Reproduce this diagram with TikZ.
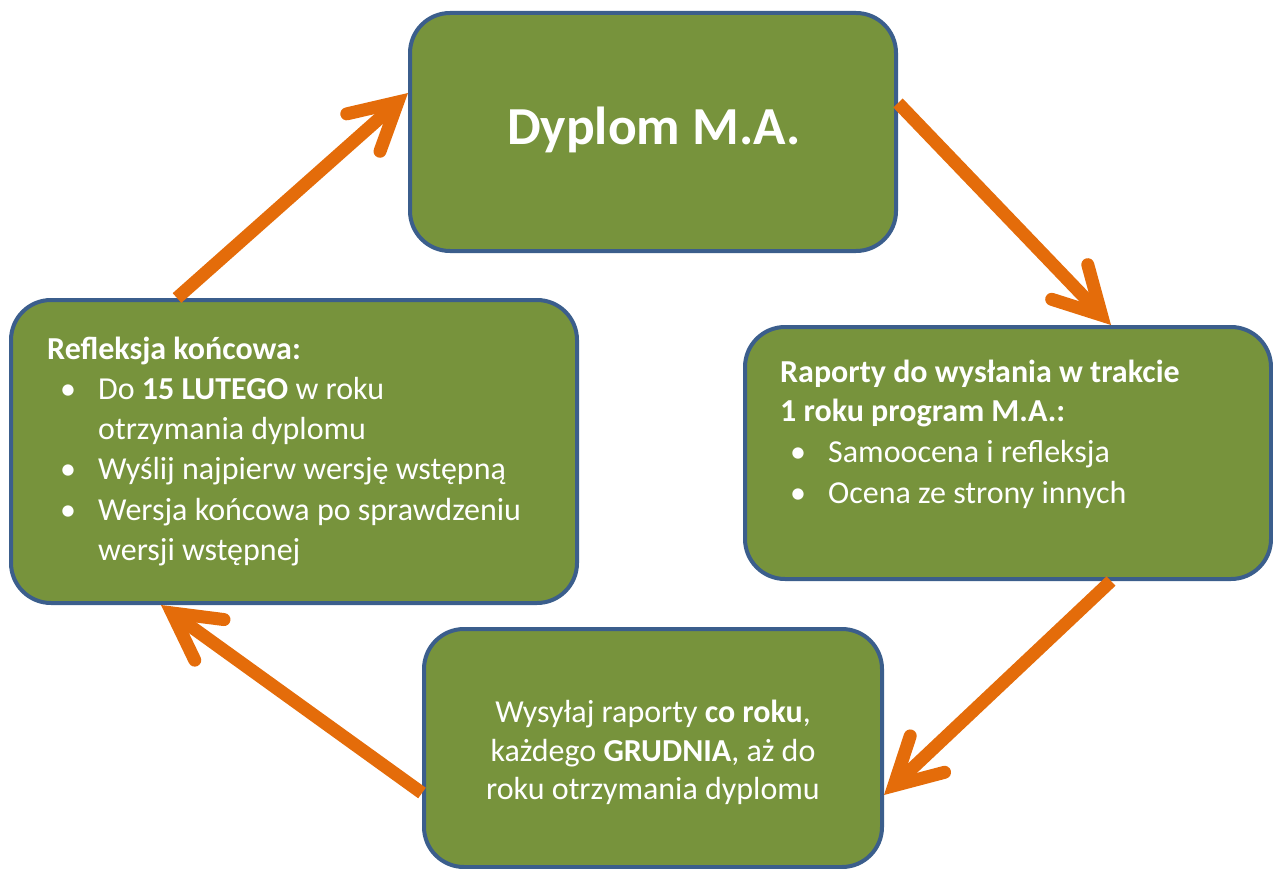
\documentclass[tikz,border=0pt]{standalone}
\usepackage{fontspec}
\setmainfont{Carlito}
\usetikzlibrary{arrows.meta,calc}
\definecolor{boxfill}{HTML}{77933C}
\definecolor{boxline}{HTML}{3B5E8C}
\definecolor{arrowc}{HTML}{E46C0A}
\tikzset{
  box/.style={draw=boxline, line width=4pt, fill=boxfill, rounded corners=40pt, inner sep=0pt},
  txt/.style={anchor=base west, inner sep=0pt, text=white, font=\fontsize{32}{38}\selectfont},
  btxt/.style={anchor=base west, inner sep=0pt, text=white, font=\fontsize{32}{38}\selectfont\bfseries},
  ctxt/.style={anchor=base, inner sep=0pt, text=white, font=\fontsize{32}{38}\selectfont},
  bul/.style={anchor=base, inner sep=0pt, text=white, font=\fontsize{32}{38}\selectfont},
  flow/.style={draw=arrowc, line width=13pt, line cap=butt,
    -{Straight Barb[length=46pt, width=50pt, line width=13pt, line cap=round, line join=miter]}},
}
\begin{document}
\begin{tikzpicture}[x=1pt,y=-1pt]
\useasboundingbox (0,0) rectangle (1273,869);
\clip (0,0) rectangle (1273,869);
% boxes
\node[box, minimum width=486pt, minimum height=238pt] (top) at (653,132) {};
\node[box, minimum width=526pt, minimum height=252pt] (right) at (1008,453) {};
\node[box, minimum width=566pt, minimum height=303pt] (left) at (294,451.5) {};
\node[box, minimum width=458pt, minimum height=238pt] (bottom) at (653,748) {};
% title
\node[anchor=base, inner sep=0pt, text=white, font=\fontsize{53.5}{60}\selectfont\bfseries] (title) at (654,145) {Dyplom M.A.};
% right box text
\node[btxt] (r1) at (780,382) {Raporty do wysłania w trakcie};
\node[btxt] (r2) at (780,421) {1 roku program M.A.:};
\node[bul] (rb1) at (798,462) {•};
\node[txt] (r3) at (828,462) {Samoocena i refleksja};
\node[bul] (rb2) at (798,503) {•};
\node[txt] (r4) at (828,503) {Ocena ze strony innych};
% left box text
\node[btxt] (l1) at (47,359) {Refleksja końcowa:};
\node[bul] (lb1) at (68,399) {•};
\node[txt] (l2) at (98,399) {Do \textbf{15 LUTEGO} w roku};
\node[txt] (l3) at (98,439) {otrzymania dyplomu};
\node[bul] (lb2) at (68,479) {•};
\node[txt] (l4) at (98,479) {Wyślij najpierw wersję wstępną};
\node[bul] (lb3) at (68,520) {•};
\node[txt] (l5) at (98,520) {Wersja końcowa po sprawdzeniu};
\node[txt] (l6) at (98,560) {wersji wstępnej};
% bottom box text
\node[ctxt] (b1) at (653,722) {Wysyłaj raporty \textbf{co roku},};
\node[ctxt] (b2) at (653,761) {każdego \textbf{GRUDNIA}, aż do};
\node[ctxt] (b3) at (653,799) {roku otrzymania dyplomu};
% arrows
\draw[flow] ([xshift=168pt]left.north west) -- ([yshift=39pt]top.west);
\draw[flow] ([yshift=-92pt]top.north east) -- ([xshift=368pt]right.north west);
\draw[flow] ([xshift=368pt]right.south west) -- ([yshift=-47pt]bottom.east);
\draw[flow] ([yshift=-45pt]bottom.west) -- ([xshift=152pt]left.south west);
\end{tikzpicture}
\end{document}
